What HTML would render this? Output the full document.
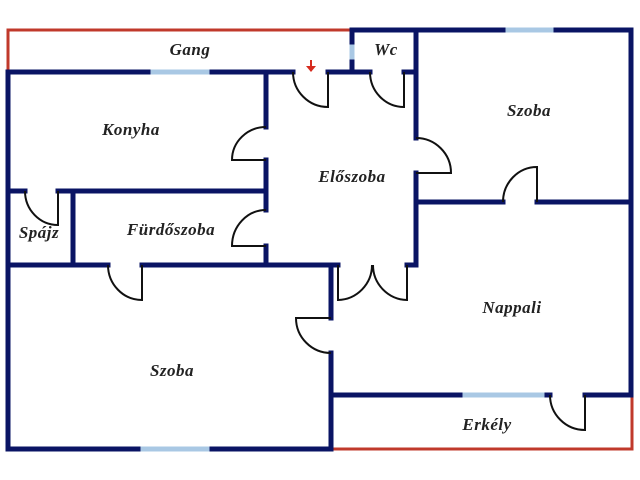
<!DOCTYPE html>
<html><head><meta charset="utf-8"><style>
html,body{margin:0;padding:0;background:#fff;}
svg{display:block}
text{font-family:"Liberation Serif",serif;font-style:italic;font-weight:bold;font-size:17px;letter-spacing:0.5px;fill:#222;text-anchor:middle}
</style></head><body>
<svg width="640" height="480" viewBox="0 0 640 480" xmlns="http://www.w3.org/2000/svg">
<rect width="640" height="480" fill="#fff"/>
<g stroke="#c0392b" stroke-width="3" fill="none">
<polyline points="8,72 8,30 352,30"/>
<polyline points="331,395 331,449 632,449 632,395"/>
</g>
<g stroke="#a9c8e4" stroke-width="5">
<line x1="148" y1="72" x2="212" y2="72"/>
<line x1="352" y1="42" x2="352" y2="62"/>
<line x1="503" y1="30" x2="556" y2="30"/>
<line x1="138" y1="449" x2="212" y2="449"/>
<line x1="460" y1="395" x2="547" y2="395"/>
</g>
<g stroke="#0a1464" stroke-width="5" fill="none" stroke-linecap="square">
<line x1="8" y1="72" x2="148" y2="72"/>
<line x1="212" y1="72" x2="293" y2="72"/>
<line x1="328" y1="72" x2="370" y2="72"/>
<line x1="404" y1="72" x2="416" y2="72"/>
<line x1="352" y1="30" x2="352" y2="42"/>
<line x1="352" y1="62" x2="352" y2="72"/>
<line x1="352" y1="30" x2="503" y2="30"/>
<line x1="556" y1="30" x2="631" y2="30"/>
<line x1="631" y1="30" x2="631" y2="395"/>
<line x1="416" y1="30" x2="416" y2="138"/>
<line x1="416" y1="173" x2="416" y2="265"/>
<line x1="416" y1="202" x2="503" y2="202"/>
<line x1="537" y1="202" x2="631" y2="202"/>
<line x1="266" y1="72" x2="266" y2="127"/>
<line x1="266" y1="160" x2="266" y2="210"/>
<line x1="266" y1="246" x2="266" y2="265"/>
<line x1="8" y1="191" x2="25" y2="191"/>
<line x1="58" y1="191" x2="266" y2="191"/>
<line x1="73" y1="191" x2="73" y2="265"/>
<line x1="8" y1="72" x2="8" y2="449"/>
<line x1="8" y1="265" x2="108" y2="265"/>
<line x1="142" y1="265" x2="338" y2="265"/>
<line x1="407" y1="265" x2="416" y2="265"/>
<line x1="331" y1="265" x2="331" y2="318"/>
<line x1="331" y1="353" x2="331" y2="449"/>
<line x1="331" y1="395" x2="460" y2="395"/>
<line x1="547" y1="395" x2="550" y2="395"/>
<line x1="585" y1="395" x2="631" y2="395"/>
<line x1="8" y1="449" x2="138" y2="449"/>
<line x1="212" y1="449" x2="331" y2="449"/>
</g>
<g stroke="#111" stroke-width="2" fill="none">
<path d="M293,72 A35,35 0 0 0 328,107 L328,72"/>
<path d="M370,72 A34,35 0 0 0 404,107 L404,72"/>
<path d="M266,127 A34,33 0 0 0 232,160 L266,160"/>
<path d="M266,210 A34,36 0 0 0 232,246 L266,246"/>
<path d="M416,138 A35,35 0 0 1 451,173 L416,173"/>
<path d="M503,202 A34,35 0 0 1 537,167 L537,202"/>
<path d="M25,191 A33,34 0 0 0 58,225 L58,191"/>
<path d="M108,265 A34,35 0 0 0 142,300 L142,265"/>
<path d="M338,265 L338,300 A35,35 0 0 0 372,265"/>
<path d="M407,265 L407,300 A35,35 0 0 1 373,265"/>
<path d="M331,318 L296,318 A35,35 0 0 0 331,353"/>
<path d="M550,395 A35,35 0 0 0 585,430 L585,395"/>
</g>
<g fill="#d62b1e" stroke="#d62b1e">
<line x1="311" y1="60" x2="311" y2="67" stroke-width="2"/>
<polygon points="306,66 316,66 311,72" stroke="none"/>
</g>
<text x="190" y="55">Gang</text>
<text x="386" y="55">Wc</text>
<text x="131" y="135">Konyha</text>
<text x="529" y="116">Szoba</text>
<text x="352" y="182">Előszoba</text>
<text x="39" y="238">Spájz</text>
<text x="171" y="235">Fürdőszoba</text>
<text x="512" y="313">Nappali</text>
<text x="172" y="376">Szoba</text>
<text x="487" y="430">Erkély</text>
</svg>
</body></html>
